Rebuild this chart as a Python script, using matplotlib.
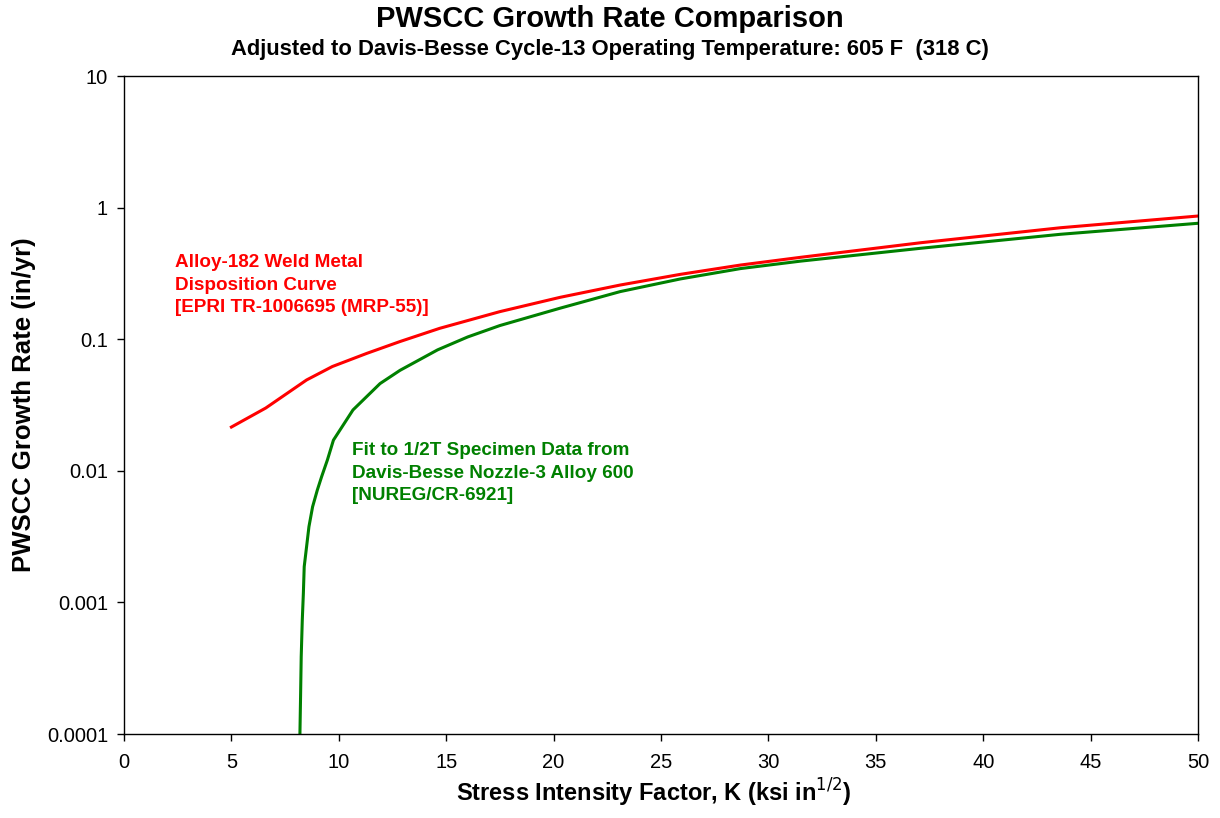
import matplotlib
matplotlib.use("Agg")
import matplotlib.pyplot as plt
from matplotlib.ticker import FixedLocator, FixedFormatter, NullLocator

plt.rcParams['font.family'] = ['Liberation Sans', 'DejaVu Sans']

# Data
k_red = [5.0, 6.6, 8.5, 9.7, 11.3, 12.85, 14.7, 17.5, 20.3, 23.1, 25.9, 28.7,
         31.5, 37.1, 43.6, 50]
rate_red = [0.0215, 0.030, 0.049, 0.062, 0.078, 0.096, 0.121, 0.162, 0.208, 0.258,
            0.311, 0.366, 0.419, 0.541, 0.703, 0.863]

k_green = [8.18, 8.19, 8.22, 8.25, 8.30, 8.35, 8.39, 8.50, 8.61, 8.78, 9.0, 9.2,
           9.47, 9.75, 10.66, 11.92, 12.85, 14.6, 16.0, 17.5, 20.3, 23.1, 25.9,
           28.7, 31.5, 37.1, 43.6, 50]
rate_green = [0.00007, 0.0001, 0.000192, 0.000387, 0.000735, 0.00117, 0.00187,
              0.00265, 0.00376, 0.00533, 0.00714, 0.00902, 0.0121, 0.0171, 0.029,
              0.046, 0.058, 0.083, 0.104, 0.127, 0.172, 0.230, 0.287, 0.344,
              0.392, 0.491, 0.627, 0.760]

x_ticks = [0, 5, 10, 15, 20, 25, 30, 35, 40, 45, 50]
y_ticks = [0.0001, 0.001, 0.01, 0.1, 1, 10]
y_tick_labels = ["0.0001", "0.001", "0.01", "0.1", "1", "10"]

fig = plt.figure(figsize=(12.2, 8.18), dpi=100)
ax = fig.add_axes([124/1220, 1-734/818, (1198-124)/1220, (734-76)/818])

ax.plot(k_red, rate_red, color="#FF0000", lw=2.2)
ax.plot(k_green, rate_green, color="#008000", lw=2.2)

ax.set_yscale("log")
ax.set_xlim(0, 50)
ax.set_ylim(0.0001, 10)
ax.xaxis.set_major_locator(FixedLocator(x_ticks))
ax.yaxis.set_major_locator(FixedLocator(y_ticks))
ax.yaxis.set_major_formatter(FixedFormatter(y_tick_labels))
ax.yaxis.set_minor_locator(NullLocator())
ax.tick_params(axis="both", direction="out", length=5, width=1, labelsize=14.5)
ax.tick_params(axis="x", pad=9)
ax.tick_params(axis="y", pad=6.5)
ax.tick_params(top=False, right=False)
for s in ax.spines.values():
    s.set_linewidth(1.0)

ax.set_xlabel("Stress Intensity Factor, K (ksi in$^{1/2}$)", fontsize=17, fontweight="bold")
ax.xaxis.set_label_coords((654-124)/1074, (734-777)/658)
ax.set_ylabel("PWSCC Growth Rate (in/yr)", fontsize=18.5, fontweight="bold")
ax.yaxis.set_label_coords((36-124)/1074, (734-405)/658)

fig.text(0.5, 1-19/818, "PWSCC Growth Rate Comparison", ha="center", va="center",
         fontsize=21, fontweight="bold")
fig.text(0.5, 1-49/818, "Adjusted to Davis-Besse Cycle-13 Operating Temperature: 605 F  (318 C)",
         ha="center", va="center", fontsize=15.8, fontweight="bold")

fig.text(175/1220, 1-285/818, "Alloy-182 Weld Metal\nDisposition Curve\n[EPRI TR-1006695 (MRP-55)]",
         ha="left", va="center", fontsize=13.6, fontweight="bold", color="#FF0000",
         linespacing=1.4)
fig.text(352/1220, 1-473/818, "Fit to 1/2T Specimen Data from\nDavis-Besse Nozzle-3 Alloy 600\n[NUREG/CR-6921]",
         ha="left", va="center", fontsize=13.6, fontweight="bold", color="#008000",
         linespacing=1.4)

fig.savefig("out.png", dpi=100)
